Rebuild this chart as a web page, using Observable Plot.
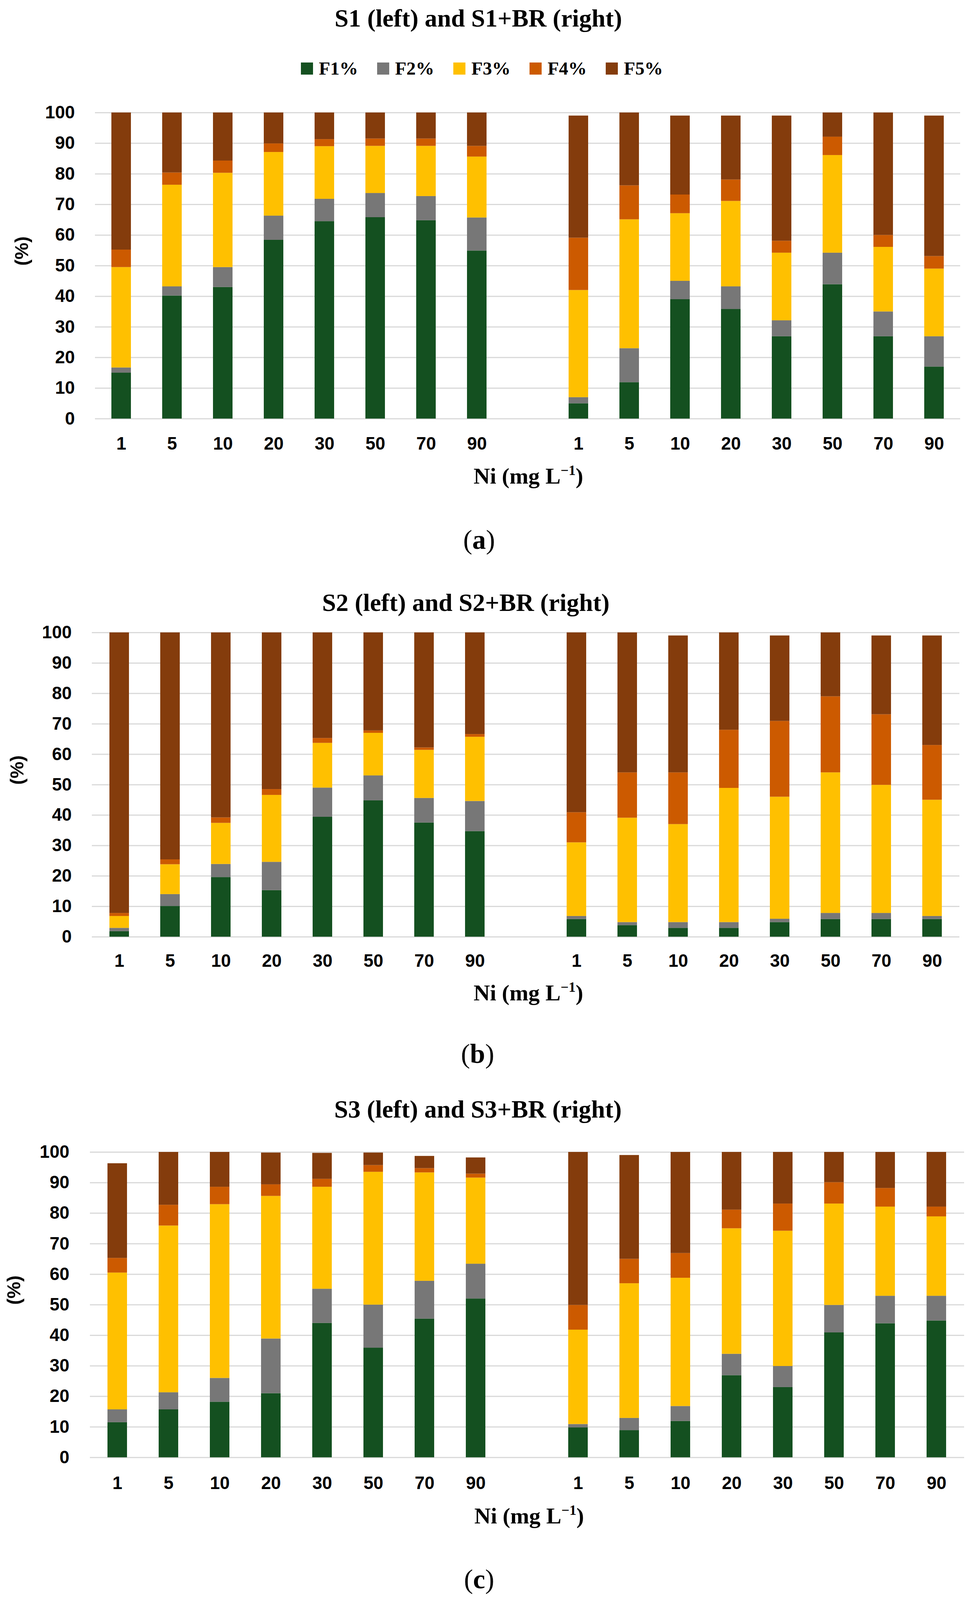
<!DOCTYPE html>
<html><head><meta charset="utf-8">
<script src="https://cdn.jsdelivr.net/npm/d3@7"></script>
<script src="https://cdn.jsdelivr.net/npm/@observablehq/plot@0.6"></script>
<style>
html,body{margin:0;background:#fff;overflow:hidden;}
#page{position:relative;width:2477px;background:#fff;overflow:hidden;}
.abs{position:absolute;white-space:nowrap;line-height:1;}
.serif{font-family:"Liberation Serif","Times New Roman",serif;color:#000;}
</style></head><body><div id="page"></div>
<script>
// ---------- data ----------
const niLevels = ["1","5","10","20","30","50","70","90"];
const fractions = ["F1%","F2%","F3%","F4%","F5%"];
const fractionColors = ["#145020","#777777","#FFC000","#CC5A00","#843C0C"];
const yTicks = [0,10,20,30,40,50,60,70,80,90,100];
const panelTitles = ["S1 (left) and S1+BR (right)","S2 (left) and S2+BR (right)","S3 (left) and S3+BR (right)"];
const panelLetters = ["a","b","c"];
const yTitle = "(%)";
const xTitle = "Ni (mg L";
const xTitleSup = "\u22121";

// each row: F1%, F2%, F3%, F4%, F5% ; columns follow niLevels
const S1 = [
  [15.0,40.2,43.0,58.4,64.5,65.8,64.8,54.9],
  [1.7,3.0,6.5,7.9,7.3,7.9,7.9,10.8],
  [32.8,33.2,30.8,20.8,17.2,15.4,16.4,19.9],
  [5.7,4.0,4.0,2.8,2.3,2.4,2.4,3.5],
  [44.8,19.6,15.7,10.1,8.7,8.5,8.5,10.9]
];
const S1BR = [
  [5.0,11.9,39.0,35.8,26.9,43.9,26.9,17.0],
  [2.0,11.1,6.0,7.4,5.2,10.3,8.1,9.9],
  [35.0,42.1,22.1,27.9,22.1,31.9,21.1,22.1],
  [17.1,11.1,6.1,7.0,3.9,6.0,3.9,4.1],
  [39.9,23.8,25.8,20.9,40.9,7.9,40.0,45.9]
];
const S2 = [
  [1.8,10.1,19.6,15.3,39.4,44.8,37.5,34.7],
  [1.1,3.9,4.3,9.3,9.6,8.2,8.1,9.9],
  [3.9,9.8,13.5,22.0,14.7,14.0,15.8,21.1],
  [1.0,1.6,1.8,1.9,1.6,0.8,0.8,0.9],
  [92.2,74.6,60.8,51.5,34.7,32.2,37.8,33.4]
];
const S2BR = [
  [5.8,3.8,2.9,2.9,4.8,5.8,5.8,5.8],
  [1.0,1.0,1.9,1.9,1.1,2.0,2.0,1.0],
  [24.2,34.3,32.2,44.1,40.1,46.2,42.1,38.2],
  [9.9,14.9,17.0,19.1,24.9,25.0,23.2,18.0],
  [59.1,46.0,45.0,32.0,28.1,21.0,25.9,36.0]
];
const S3 = [
  [11.5,15.7,18.2,21.0,44.0,35.9,45.4,52.0],
  [4.2,5.6,7.8,17.9,11.2,14.1,12.4,11.4],
  [44.8,54.6,56.9,46.7,33.4,43.5,35.5,28.2],
  [4.8,6.8,5.7,3.8,2.6,2.2,1.4,1.3],
  [31.0,17.3,11.4,10.4,8.5,4.1,4.0,5.3]
];
const S3BR = [
  [9.8,8.9,11.9,26.9,23.0,40.9,43.9,44.8],
  [1.1,4.0,4.9,7.0,6.9,9.0,9.0,8.1],
  [30.9,44.1,42.0,41.1,44.3,33.2,29.2,26.0],
  [8.1,8.0,8.1,6.1,8.9,7.0,6.1,3.2],
  [50.1,34.0,33.1,18.9,16.9,9.9,11.8,17.9]
];

// ---------- layout (positions / sizes, in reference pixels) ----------
const layout = [
  {leftSet:S1, rightSet:S1BR, plotLeft:243, plotRight:2457, top:307, base:1143, tickY:1210, yTickRight:191, yLabelX:56,
   titleCx:1224, titleCy:51, niCx:1352, niCy:1301, capCx:1226, capCy:1480, legendCy:187},
  {leftSet:S2, rightSet:S2BR, plotLeft:235, plotRight:2455, top:1727, base:2558, tickY:2623, yTickRight:183, yLabelX:44,
   titleCx:1192, titleCy:1647, niCx:1352, niCy:2713, capCx:1222, capCy:2884},
  {leftSet:S3, rightSet:S3BR, plotLeft:230, plotRight:2467, top:3146, base:3980, tickY:4049, yTickRight:177, yLabelX:36,
   titleCx:1223, titleCy:3030, niCx:1354, niCy:4141, capCx:1226, capCy:4319}
];
const W = 2477, PAGE_H = 4370;
// the visible viewport may be shorter than the reference: compress vertical positions to fit
const k = Math.min(1, (window.innerHeight || PAGE_H) / PAGE_H);
const fk = Math.sqrt(k);           // gentle font scaling
const tickFont = 47 * fk;
const page = document.getElementById("page");
page.style.height = (PAGE_H * k) + "px";

function addDiv(html, css, cls="abs serif") {
  const d = document.createElement("div");
  d.className = cls;
  d.innerHTML = html;
  Object.assign(d.style, css);
  page.appendChild(d);
  return d;
}

const keys = [...niLevels.map(v => "L" + v), "gap", ...niLevels.map(v => "R" + v)];
const tickKeys = keys.filter(k => k !== "gap");

layout.forEach((p, idx) => {
  const tF = 66 * fk;
  addDiv(panelTitles[idx], {left: p.titleCx + "px", top: (p.titleCy * k - 0.5065 * tF) + "px",
    transform: "translateX(-50%)", fontSize: tF + "px", fontWeight: "bold"});

  if (p.legendCy !== undefined) {
    const lF = 49 * fk;
    const lg = addDiv("", {left: "770px", top: (p.legendCy * k - 25) + "px", height: "50px", display: "flex",
      alignItems: "center", fontSize: lF + "px", fontWeight: "bold"});
    fractions.forEach((f, i) => {
      const item = document.createElement("div");
      item.style.cssText = `display:flex;align-items:center;margin-right:${i < fractions.length - 1 ? 49 : 0}px;line-height:50px;`;
      item.innerHTML = `<span style="display:inline-block;width:31px;height:31px;background:${fractionColors[i]};margin-right:15px"></span><span>${f}</span>`;
      lg.appendChild(item);
    });
  }

  const data = [];
  [[p.leftSet, "L"], [p.rightSet, "R"]].forEach(([set, prefix]) => {
    niLevels.forEach((lv, i) => {
      fractions.forEach((f, j) => data.push({key: prefix + lv, fraction: f, value: set[j][i]}));
    });
  });

  const mt = 30, mb = 130;
  const top = p.top * k, base = p.base * k;
  const H = base - top;
  const chart = Plot.plot({
    width: W,
    height: mt + H + mb,
    marginTop: mt,
    marginBottom: mb,
    marginLeft: p.plotLeft,
    marginRight: W - p.plotRight,
    x: {type: "band", domain: keys, paddingInner: 0.617, paddingOuter: 0.3085},
    y: {domain: [0, 100]},
    color: {domain: fractions, range: fractionColors},
    style: {fontFamily: "'Liberation Sans', Arial, sans-serif", color: "#000", background: "#fff", overflow: "visible"},
    marks: [
      Plot.gridY(yTicks, {stroke: "#d9d9d9", strokeOpacity: 1, strokeWidth: 3}),
      Plot.barY(data, {x: "key", y: "value", fill: "fraction"}),
      Plot.axisY(yTicks, {tickSize: 0, tickPadding: p.plotLeft - p.yTickRight, fontSize: tickFont, fontWeight: "bold", label: null}),
      Plot.axisX(tickKeys, {tickSize: 0, tickPadding: p.tickY * k - base - 0.355 * tickFont, tickFormat: d => d.slice(1),
        fontSize: tickFont, fontWeight: "bold", label: null}),
      Plot.text([yTitle], {text: d => d, frameAnchor: "left", dx: p.yLabelX - p.plotLeft, rotate: -90,
        fontSize: 50 * fk, fontWeight: "bold", fill: "#000"})
    ]
  });
  chart.style.position = "absolute";
  chart.style.left = "0px";
  chart.style.top = (top - mt) + "px";
  page.appendChild(chart);

  const nF = 60 * fk;
  addDiv(`${xTitle}<span style="font-size:0.62em;vertical-align:0.6em;line-height:0">${xTitleSup}</span>)`,
    {left: p.niCx + "px", top: (p.niCy * k - 0.5065 * nF) + "px", transform: "translateX(-50%)", fontSize: nF + "px", fontWeight: "bold"});

  const cF = 72 * fk;
  addDiv(`(<b>${panelLetters[idx]}</b>)`, {left: p.capCx + "px", top: (p.capCy * k - 0.58 * cF) + "px",
    transform: "translateX(-50%)", fontSize: cF + "px"});
});
</script>
</body></html>
